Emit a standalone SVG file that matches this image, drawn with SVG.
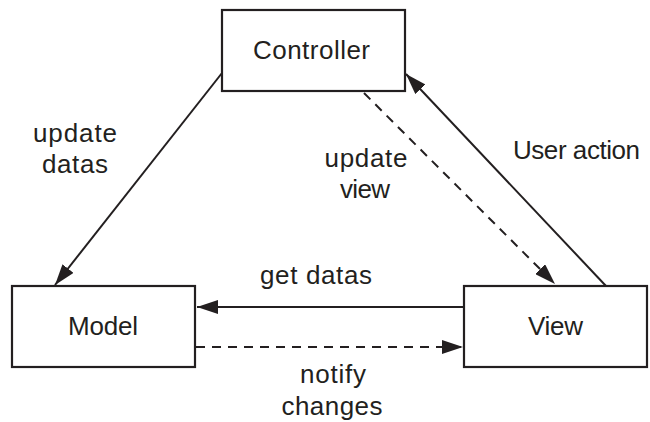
<svg xmlns="http://www.w3.org/2000/svg" width="650" height="422" viewBox="0 0 650 422">
<defs>
<style>
.box{fill:#fff;stroke:#231f20;stroke-width:2.2}
.lbl{font-family:"Liberation Sans",Arial,Helvetica,sans-serif;font-size:26px;fill:#231f20;text-anchor:middle}
.ln{fill:none;stroke:#231f20;stroke-width:2}
.dash{stroke-dasharray:9 7}
</style>
<marker id="ah" viewBox="0 0 21 14" refX="21" refY="7" markerWidth="21" markerHeight="14" markerUnits="userSpaceOnUse" orient="auto">
<path d="M0,0 L21,7 L0,14 Z" fill="#231f20"/>
</marker>
</defs>
<rect width="650" height="422" fill="#fff"/>
<g id="connectors">
<line class="ln" x1="222" y1="73" x2="55" y2="285" marker-end="url(#ah)"/>
<line class="ln dash" x1="364" y1="93" x2="555" y2="284" marker-end="url(#ah)"/>
<line class="ln" x1="606" y1="286" x2="406" y2="74" marker-end="url(#ah)"/>
<line class="ln" x1="464" y1="307" x2="197" y2="307" marker-end="url(#ah)"/>
<line class="ln dash" x1="196" y1="347" x2="463" y2="347" marker-end="url(#ah)"/>
<text class="lbl" x="75" y="142" textLength="84" lengthAdjust="spacing">update</text>
<text class="lbl" x="75" y="173" textLength="66" lengthAdjust="spacing">datas</text>
<text class="lbl" x="366" y="167" textLength="83" lengthAdjust="spacing">update</text>
<text class="lbl" x="365" y="198" textLength="50" lengthAdjust="spacing">view</text>
<text class="lbl" x="576.5" y="159" textLength="127" lengthAdjust="spacing">User action</text>
<text class="lbl" x="316" y="284" textLength="112" lengthAdjust="spacing">get datas</text>
<text class="lbl" x="333" y="383" textLength="66" lengthAdjust="spacing">notify</text>
<text class="lbl" x="332" y="415" textLength="101" lengthAdjust="spacing">changes</text>
</g>
<g id="controller">
<rect class="box" x="222" y="10" width="183" height="81"/>
<text class="lbl" x="311.5" y="59" textLength="117" lengthAdjust="spacing">Controller</text>
</g>
<g id="model">
<rect class="box" x="12" y="286" width="183" height="81"/>
<text class="lbl" x="103" y="335" textLength="70" lengthAdjust="spacing">Model</text>
</g>
<g id="view">
<rect class="box" x="464" y="286" width="183" height="81"/>
<text class="lbl" x="555.5" y="335" textLength="55" lengthAdjust="spacing">View</text>
</g>
</svg>
